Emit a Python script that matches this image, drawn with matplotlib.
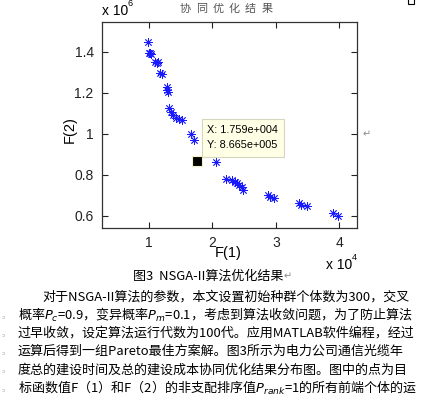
import matplotlib
matplotlib.use('Agg')
import matplotlib.pyplot as plt
from matplotlib.patches import Rectangle

# F(1): construction time, F(2): construction cost (Pareto front)
f1 = [0.979, 1.000, 1.016, 1.032, 1.095, 1.121, 1.142, 1.173, 1.200, 1.279,
      1.292, 1.304, 1.315, 1.347, 1.383, 1.421, 1.473, 1.516, 1.662, 1.714,
      1.759, 2.057, 2.210, 2.304, 2.356, 2.383, 2.420, 2.462, 2.487, 2.882,
      2.909, 2.976, 3.366, 3.397, 3.487, 3.907, 3.986]
f2 = [1.449, 1.392, 1.395, 1.387, 1.351, 1.346, 1.350, 1.298, 1.291, 1.229,
      1.213, 1.205, 1.124, 1.107, 1.091, 1.075, 1.072, 1.067, 0.997, 0.969,
      0.8665, 0.863, 0.778, 0.774, 0.763, 0.758, 0.750, 0.741, 0.725, 0.701,
      0.693, 0.685, 0.663, 0.652, 0.647, 0.615, 0.599]
f1 = [v * 1e4 for v in f1]
f2 = [v * 1e6 for v in f2]
tip = 20  # data cursor point

xticks = [1, 2, 3, 4]
yticks = [0.6, 0.8, 1.0, 1.2, 1.4]
title = '协同优化结果'
caption = '图3  NSGA-II算法优化结果'
para = [
    '对于NSGA-II算法的参数，本文设置初始种群个体数为300，交叉',
    '概率$P_c$=0.9，变异概率$P_m$=0.1，考虑到算法收敛问题，为了防止算法',
    '过早收敛，设定算法运行代数为100代。应用MATLAB软件编程，经过',
    '运算后得到一组Pareto最佳方案解。图3所示为电力公司通信光缆年',
    '度总的建设时间及总的建设成本协同优化结果分布图。图中的点为目',
    '标函数值F（1）和F（2）的非支配排序值$P_{rank}$=1的所有前端个体的运',
]

W, H = 427, 397
fig = plt.figure(figsize=(W / 100, H / 100), dpi=100)
fig.patch.set_facecolor('white')

def fx(px):
    return px / W

def fy(py):
    return 1 - py / H

ax = fig.add_axes([fx(102), fy(228), 255 / W, 206 / H])
ax.scatter([v / 1e4 for v in f1], [v / 1e6 for v in f2], marker=(8, 2, 0),
           s=32, color='#1a1aff', linewidths=0.6, zorder=3)
ax.plot(f1[tip] / 1e4, f2[tip] / 1e6, 's', color='black', ms=7,
        mec='#f5f0c8', mew=0.8, zorder=4)
ax.set_xlim(0.259, 4.281)
ax.set_ylim(0.540, 1.545)
ax.set_xticks(xticks)
ax.set_yticks(yticks)
ax.set_xticklabels([str(t) for t in xticks])
ax.set_yticklabels(['%g' % t for t in yticks])
ax.tick_params(direction='in', length=4, width=0.8, top=True, right=True,
               labelsize=10, colors='#222222', pad=6)
for lab in ax.get_xticklabels() + ax.get_yticklabels():
    lab.set_family('Liberation Sans')
for s in ax.spines.values():
    s.set_color('#333333')
    s.set_linewidth(0.9)

cjk = ['Noto Sans CJK SC', 'DejaVu Sans']
arial = 'Liberation Sans'

# title, spread out like the MATLAB rendering
for i, ch in enumerate(title):
    fig.text(fx(185 + i * 16.4), fy(9), ch, family=cjk, fontsize=8,
             color='#555555', ha='center', va='center')

fig.text(fx(102), fy(11), 'x 10', family=arial, fontsize=10, ha='left', va='center')
fig.text(fx(128), fy(4), '6', family=arial, fontsize=6.5, ha='left', va='center')
fig.text(fx(326), fy(265), 'x 10', family=arial, fontsize=10, ha='left', va='center')
fig.text(fx(352), fy(258), '4', family=arial, fontsize=6.5, ha='left', va='center')
fig.text(fx(70), fy(130), 'F(2)', family=arial, fontsize=10.5, rotation=90,
         ha='center', va='center')
fig.text(fx(228), fy(253), 'F(1)', family=arial, fontsize=10.5, ha='center', va='center')

# data cursor box
def mfmt(v):
    m, e = ('%.3e' % v).split('e')
    return '%se%s%03d' % (m, e[0], abs(int(e)))

fig.patches.append(Rectangle((fx(202.5), fy(156.5)), 82 / W, 38 / H,
                             transform=fig.transFigure, facecolor='#ffffe6',
                             edgecolor='#d6d6c0', linewidth=0.8))
fig.text(fx(207), fy(130), 'X: ' + mfmt(f1[tip]), family=arial, fontsize=7.8,
         ha='left', va='center')
fig.text(fx(207), fy(145), 'Y: ' + mfmt(f2[tip]), family=arial, fontsize=7.8,
         ha='left', va='center')

# paragraph marks and page decorations
fig.text(fx(367), fy(134), '↵', family=cjk, fontsize=7, color='#888888',
         ha='center', va='center')
fig.patches.append(Rectangle((fx(408), fy(4)), 6 / W, 6 / H,
                             transform=fig.transFigure, facecolor='white',
                             edgecolor='black', linewidth=0.8))

# caption and body text
fig.text(fx(133), fy(276), caption, family=cjk, fontsize=9.4, ha='left', va='center')
fig.text(fx(284), fy(276), '↵', family=cjk, fontsize=7, color='#888888',
         ha='left', va='center')
for i, line in enumerate(para):
    x0 = 42 if i == 0 else 18
    fig.text(fx(x0), fy(297 + i * 18.2), line, family=cjk, fontsize=9.4,
             ha='left', va='center')
    if i > 0:
        fig.text(fx(3), fy(297 + i * 18.2 + 2), 'ɔ', family=cjk, fontsize=4,
                 color='#999999', ha='center', va='center')

fig.savefig('out.png', dpi=100)
